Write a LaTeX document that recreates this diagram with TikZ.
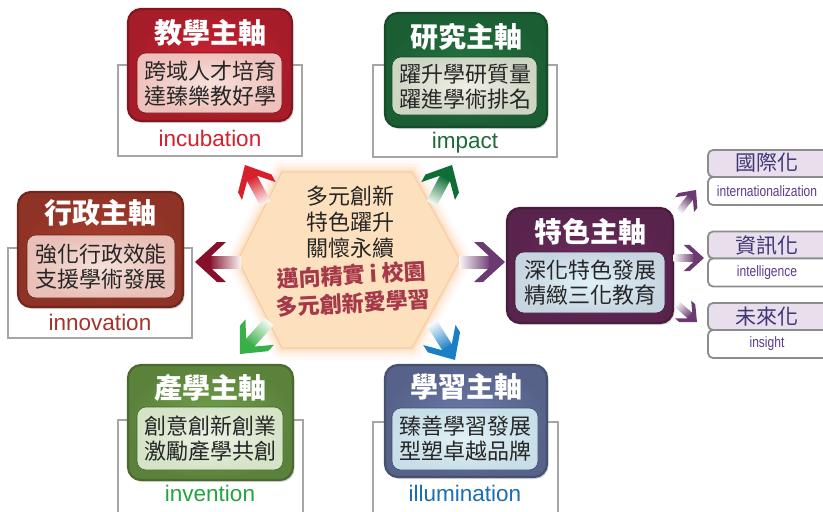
\documentclass[tikz,border=0pt]{standalone}
\usepackage{fontspec}
\setmainfont{Liberation Sans}
\newfontfamily\cjk{Noto Sans CJK TC}
\newfontfamily\narrowfont[FakeStretch=0.8]{Liberation Sans}
\usetikzlibrary{shadows}
\definecolor{tred}{HTML}{CC2232}\definecolor{tredin}{HTML}{F3D3CB}\definecolor{incub}{HTML}{D51F2E}
\definecolor{rgreen}{HTML}{237540}\definecolor{rgreenin}{HTML}{EBE6DA}\definecolor{impactc}{HTML}{1D6B3A}
\definecolor{admin}{HTML}{AD3E2E}\definecolor{adminin}{HTML}{F1D2CA}\definecolor{innov}{HTML}{A2342A}
\definecolor{indc}{HTML}{72A34A}\definecolor{indin}{HTML}{E2ECD8}\definecolor{invent}{HTML}{25A33F}
\definecolor{learn}{HTML}{6C7BAB}\definecolor{learnin}{HTML}{D5ECF1}\definecolor{illum}{HTML}{1B6DB4}
\definecolor{feat}{HTML}{6E2C5F}\definecolor{featin}{HTML}{D3ECF3}
\definecolor{sublav}{HTML}{E9DEEC}\definecolor{subtext}{HTML}{3F3777}\definecolor{subtextb}{HTML}{5B3B8E}
\definecolor{hexfill}{HTML}{FDE0BE}\definecolor{hexglow}{HTML}{F9C596}
\definecolor{hexred}{HTML}{A53849}
\definecolor{arRed}{HTML}{D8202C}\definecolor{arGreen}{HTML}{0F6E35}\definecolor{arDark}{HTML}{86102C}
\definecolor{arPurple}{HTML}{6A3A70}\definecolor{arLight}{HTML}{38B048}\definecolor{arBlue}{HTML}{1B7FC6}
\newcommand\chev[5]{%
  \pgfmathsetmacro\shang{#3-90}%
  \begin{scope}[shift={(#1,#2)}, rotate=#3, scale=#4]
    \shade[top color=#5, bottom color=#5!4!white, shading angle=\shang] (-46,-6) rectangle (-14,6);
    \fill[#5] (0,0) -- (-22,20) -- (-31,20) -- (-16,6) -- (-16,-6) -- (-31,-20) -- (-22,-20) -- cycle;
  \end{scope}}
\begin{document}
\begin{tikzpicture}[x=1pt,y=-1pt,
  backbox/.style={draw=black!35, line width=1.8pt, fill=white},
  mainbox/.style={rounded corners=13pt, line width=2.2pt, inner sep=0pt,
     drop shadow={opacity=0.3, shadow xshift=1.5pt, shadow yshift=-2pt}},
  innerbox/.style={rounded corners=9pt, inner sep=0pt, line width=0.6pt},
  title/.style={font=\cjk\bfseries\fontsize{28}{30}\selectfont, text=white},
  body/.style={font=\cjk\fontsize{22}{25}\selectfont, align=center, text=black!85},
  en/.style={font=\fontsize{22.5}{23}\selectfont},
  hextext/.style={font=\cjk\fontsize{22}{26}\selectfont, align=center, text=black!85},
  hexbold/.style={font=\cjk\bfseries\fontsize{22}{28}\selectfont, align=center, text=hexred},
  subtop/.style={rounded corners=5pt, draw=black!45, line width=1.8pt, fill=sublav, inner sep=0pt},
  subbot/.style={rounded corners=5pt, draw=black!45, line width=1.8pt, fill=white, inner sep=0pt},
  subcjk/.style={font=\cjk\fontsize{21}{22}\selectfont, text=subtext},
  suben/.style={font=\narrowfont\fontsize{15}{16}\selectfont, text=subtextb}
]
\path[use as bounding box] (0,0) rectangle (823,512);
\clip (0,0) rectangle (823,512);

% ---------- central hexagon ----------
\foreach \w/\o in {24/0.08,17/0.12,11/0.18,5/0.3}{
  \draw[hexglow, line width=\w pt, opacity=\o, line join=round]
    (238,260) -- (282,172) -- (412,172) -- (460,260) -- (412,348) -- (282,348) -- cycle;}
\fill[hexfill] (238,260) -- (282,172) -- (412,172) -- (460,260) -- (412,348) -- (282,348) -- cycle;
\draw[hexglow, line width=1.2pt, opacity=0.7] (238,260) -- (282,172) -- (412,172) -- (460,260) -- (412,348) -- (282,348) -- cycle;
\node[hextext] (hexA) at (350,222) {多元創新\\特色躍升\\關懷永續};
\node[hexbold, rotate=3] (hexB) at (352,289) {邁向精實 i 校園\\多元創新愛學習};

% ---------- teaching ----------
\node[backbox, minimum width=184pt, minimum height=91pt] (teachBack) at (210,110.5) {};
\node[mainbox, draw=tred!65!black, inner color=tred, outer color=tred!82!black,
      minimum width=164pt, minimum height=112pt] (teachBox) at (210,65) {};
\node[innerbox, draw=tred!60!black, inner color=tredin!70!white, outer color=tredin!90!tred,
      minimum width=145pt, minimum height=60pt] (teachIn) at (209.5,83) {};
\node[title] (teachT) at (210,33) {教學主軸};
\node[body] (teachB) at (210,84) {跨域人才培育\\達臻樂教好學};
\node[en, text=incub] (teachE) at (210,138) {incubation};

% ---------- research ----------
\node[backbox, minimum width=184pt, minimum height=92pt] (resBack) at (465,111) {};
\node[mainbox, draw=rgreen!65!black, inner color=rgreen, outer color=rgreen!80!black,
      minimum width=162pt, minimum height=114pt] (resBox) at (466,70) {};
\node[innerbox, draw=rgreen!60!black, inner color=rgreenin!70!white, outer color=rgreenin!85!rgreen,
      minimum width=145pt, minimum height=58pt] (resIn) at (464.5,86) {};
\node[title] (resT) at (466,37) {研究主軸};
\node[body] (resB) at (465,87) {躍升學研質量\\躍進學術排名};
\node[en, text=impactc] (resE) at (465,143) {impact};

% ---------- administration ----------
\node[backbox, minimum width=184pt, minimum height=90pt] (admBack) at (100,293) {};
\node[mainbox, draw=admin!65!black, inner color=admin, outer color=admin!82!black,
      minimum width=165pt, minimum height=115pt] (admBox) at (100.5,249.5) {};
\node[innerbox, draw=admin!60!black, inner color=adminin!70!white, outer color=adminin!88!admin,
      minimum width=148pt, minimum height=63pt] (admIn) at (101,266.5) {};
\node[title] (admT) at (101,213) {行政主軸};
\node[body] (admB) at (101,267) {強化行政效能\\支援學術發展};
\node[en, text=innov] (admE) at (100,322) {innovation};

% ---------- industry ----------
\node[backbox, minimum width=185pt, minimum height=100pt] (indBack) at (210.5,470) {};
\node[mainbox, draw=indc!65!black, inner color=indc, outer color=indc!80!black,
      minimum width=165pt, minimum height=115pt] (indBox) at (210.5,422.5) {};
\node[innerbox, draw=indc!60!black, inner color=indin!70!white, outer color=indin!88!indc,
      minimum width=146pt, minimum height=63pt] (indIn) at (210,438.5) {};
\node[title] (indT) at (210,388) {產學主軸};
\node[body] (indB) at (210,439) {創意創新創業\\激勵產學共創};
\node[en, text=invent] (indE) at (210,493) {invention};

% ---------- learning ----------
\node[backbox, minimum width=185pt, minimum height=100pt] (lrnBack) at (465.5,472) {};
\node[mainbox, draw=learn!65!black, inner color=learn, outer color=learn!80!black,
      minimum width=162pt, minimum height=112pt] (lrnBox) at (466,421) {};
\node[innerbox, draw=learn!60!black, inner color=learnin!70!white, outer color=learnin!88!learn,
      minimum width=146pt, minimum height=62pt] (lrnIn) at (465,439) {};
\node[title] (lrnT) at (466,387) {學習主軸};
\node[body] (lrnB) at (465,439) {臻善學習發展\\型塑卓越品牌};
\node[en, text=illum] (lrnE) at (465,493) {illumination};

% ---------- feature ----------
\node[mainbox, draw=feat!65!black, inner color=feat, outer color=feat!80!black,
      minimum width=166pt, minimum height=115pt] (featBox) at (590,265.5) {};
\node[innerbox, draw=feat!60!black, inner color=featin!70!white, outer color=featin!88!feat,
      minimum width=150pt, minimum height=61pt] (featIn) at (590,282.5) {};
\node[title] (featT) at (590,232) {特色主軸};
\node[body] (featB) at (590,283) {深化特色發展\\精緻三化教育};

% ---------- right sub boxes ----------
\node[subtop, minimum width=130pt, minimum height=27pt] (s1t) at (773,163.5) {};
\node[subbot, minimum width=130pt, minimum height=28pt] (s1b) at (773,191) {};
\node[subcjk] (s1c) at (767,163) {國際化};
\node[suben] (s1e) at (767,191) {internationalization};
\node[subtop, minimum width=130pt, minimum height=27pt] (s2t) at (773,245) {};
\node[subbot, minimum width=130pt, minimum height=28pt] (s2b) at (773,272.5) {};
\node[subcjk] (s2c) at (767,245) {資訊化};
\node[suben] (s2e) at (767,273) {intelligence};
\node[subtop, minimum width=130pt, minimum height=27pt] (s3t) at (773,316.5) {};
\node[subbot, minimum width=130pt, minimum height=28pt] (s3b) at (773,344) {};
\node[subcjk] (s3c) at (767,317) {未來化};
\node[suben] (s3e) at (767,344) {insight};

% ---------- arrows ----------
\chev{245}{165}{118}{0.95}{arRed}
\chev{452}{165}{62}{0.95}{arGreen}
\chev{195}{262}{180}{1}{arDark}
\chev{505}{262}{0}{1}{arPurple}
\chev{240}{354}{228}{0.95}{arLight}
\chev{455}{360}{-58}{0.95}{arBlue}
\chev{696}{190}{52}{0.6}{arPurple}
\chev{704}{258}{0}{0.66}{arPurple}
\chev{697}{322}{-42}{0.6}{arPurple}
\end{tikzpicture}
\end{document}
